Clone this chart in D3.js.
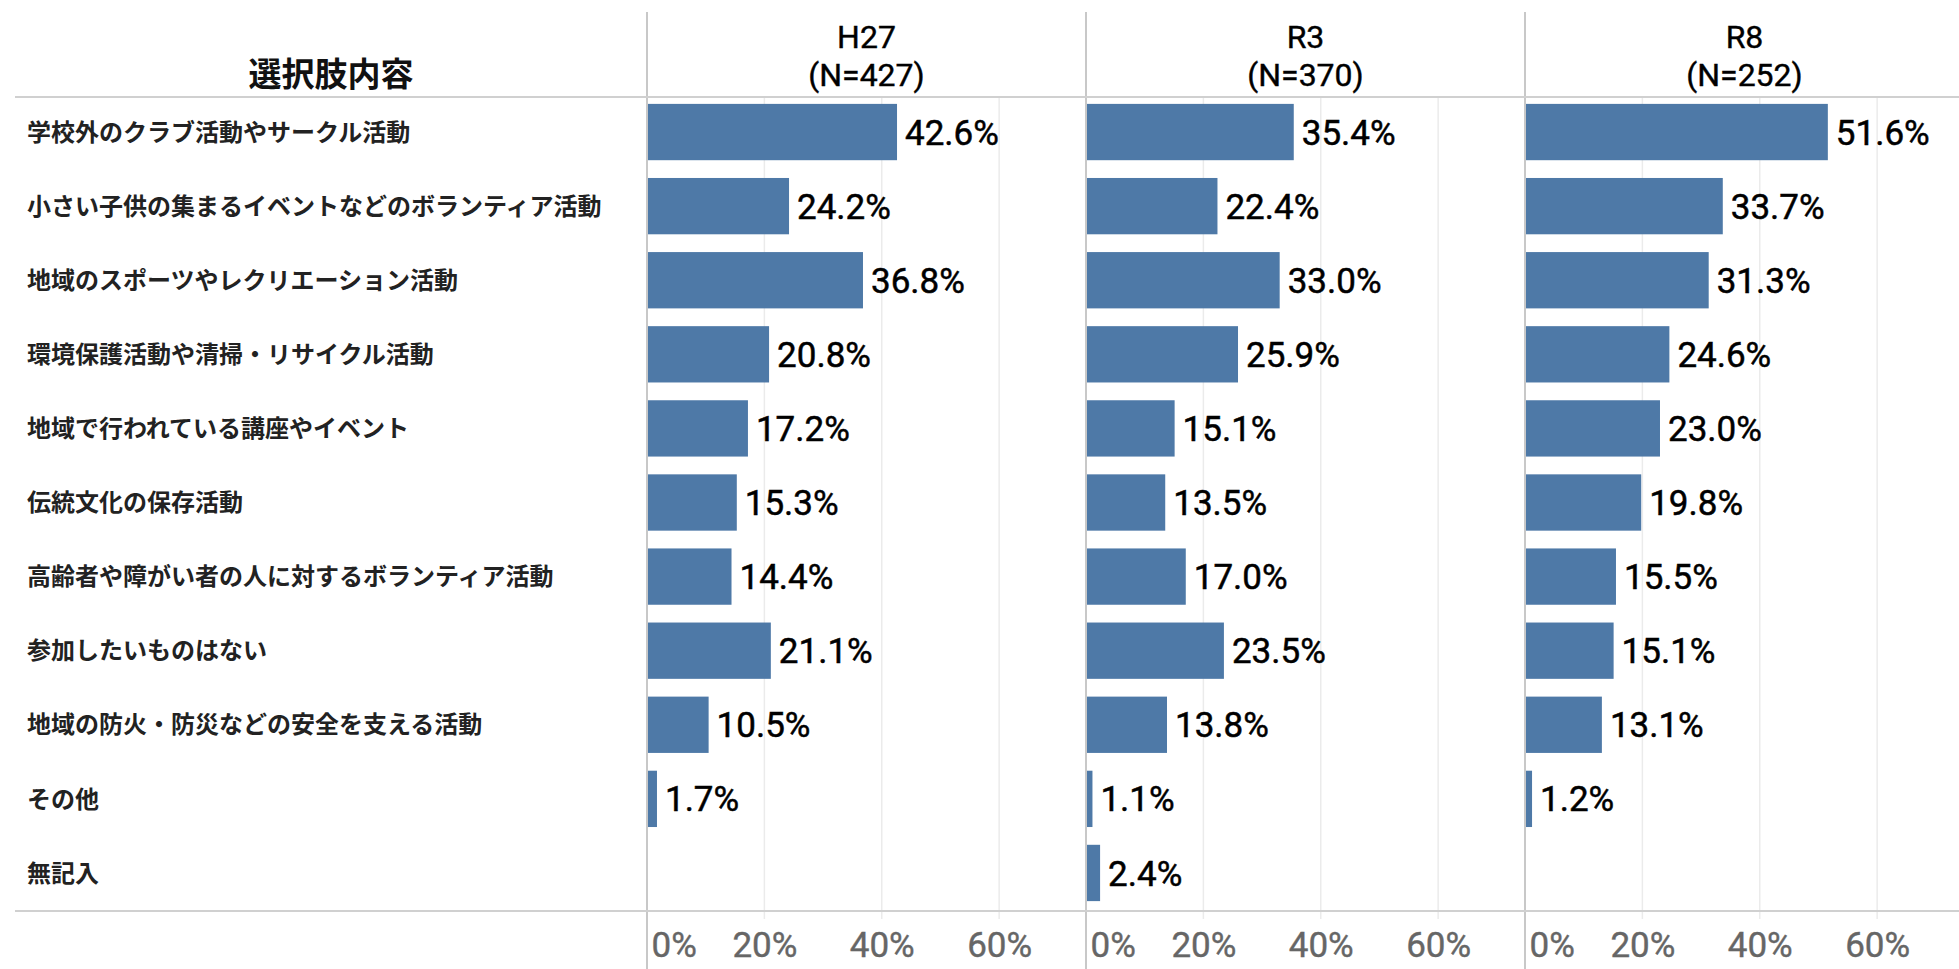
<!DOCTYPE html>
<html>
<head>
<meta charset="utf-8">
<script src="https://cdn.jsdelivr.net/npm/d3@7"></script>
<style>
  html, body { margin: 0; padding: 0; background: #fff; }
  svg { display: block; }
  .cat { font-family: "Noto Sans CJK JP", sans-serif; font-weight: bold; font-size: 24px; fill: #222; }
  .ttl { font-family: "Noto Sans CJK JP", sans-serif; font-weight: bold; font-size: 33px; fill: #111; }
  .val { font-family: Roboto, sans-serif; font-size: 35px; fill: #000; stroke: #000; stroke-width: 0.5px; }
  .hdr { font-family: Roboto, sans-serif; font-size: 32px; fill: #000; stroke: #000; stroke-width: 0.4px; }
  .tick text { font-family: Roboto, sans-serif; font-size: 35px; fill: #666; stroke: #666; stroke-width: 0.4px; }
</style>
</head>
<body>
<script>
const categories = [
  '学校外のクラブ活動やサークル活動',
  '小さい子供の集まるイベントなどのボランティア活動',
  '地域のスポーツやレクリエーション活動',
  '環境保護活動や清掃・リサイクル活動',
  '地域で行われている講座やイベント',
  '伝統文化の保存活動',
  '高齢者や障がい者の人に対するボランティア活動',
  '参加したいものはない',
  '地域の防火・防災などの安全を支える活動',
  'その他',
  '無記入'
];
const surveys = ['H27', 'R3', 'R8'];
const sampleSizes = [427, 370, 252];
const valuesH27 = [42.6, 24.2, 36.8, 20.8, 17.2, 15.3, 14.4, 21.1, 10.5, 1.7, null];
const valuesR3  = [35.4, 22.4, 33.0, 25.9, 15.1, 13.5, 17.0, 23.5, 13.8, 1.1, 2.4];
const valuesR8  = [51.6, 33.7, 31.3, 24.6, 23.0, 19.8, 15.5, 15.1, 13.1, 1.2, null];
const tickValues = [0, 20, 40, 60];

const series = [valuesH27, valuesR3, valuesR8];

const width = 1959, height = 969;
const yTop = 97, yBottom = 911;
const panelLeft = 647, panelW = 439;

const svg = d3.select('body').append('svg')
  .attr('width', width)
  .attr('height', height);

const y = d3.scaleBand()
  .domain(categories)
  .range([yTop - 2, yBottom - 1])
  .paddingInner(0.24)
  .paddingOuter(0.12);

// header
svg.append('text')
  .attr('class', 'ttl')
  .attr('x', 331).attr('y', 86)
  .attr('text-anchor', 'middle')
  .text('選択肢内容');

// category labels
svg.append('g').selectAll('text')
  .data(categories)
  .join('text')
  .attr('class', 'cat')
  .attr('x', 27)
  .attr('y', d => y(d) + y.bandwidth() / 2)
  .attr('dy', '0.36em')
  .text(d => d);

surveys.forEach((s, i) => {
  const x0 = panelLeft + i * panelW;
  const x = d3.scaleLinear().domain([0, 74.8]).range([x0, x0 + panelW]);
  const g = svg.append('g');

  // gridlines
  g.selectAll('line.grid')
    .data(tickValues.slice(1))
    .join('line')
    .attr('x1', d => x(d)).attr('x2', d => x(d))
    .attr('y1', yTop).attr('y2', yBottom + 8)
    .attr('stroke', '#ebebeb').attr('stroke-width', 1.5);

  // bars
  const rows = categories.map((c, k) => ({ c, v: series[i][k] })).filter(d => d.v != null);
  g.selectAll('rect')
    .data(rows)
    .join('rect')
    .attr('x', x(0))
    .attr('y', d => y(d.c))
    .attr('width', d => Math.max(x(d.v) - x(0), 4))
    .attr('height', y.bandwidth())
    .attr('fill', '#4e79a7');

  g.selectAll('text.val')
    .data(rows)
    .join('text')
    .attr('class', 'val')
    .attr('x', d => Math.max(x(d.v), x(0) + 4) + 8)
    .attr('y', d => y(d.c) + y.bandwidth() / 2)
    .attr('dy', '0.36em')
    .text(d => d.v.toFixed(1) + '%');

  // panel header
  const cx = x0 + panelW / 2;
  g.append('text').attr('class', 'hdr')
    .attr('x', cx).attr('y', 48).attr('text-anchor', 'middle').text(s);
  g.append('text').attr('class', 'hdr')
    .attr('x', cx).attr('y', 86).attr('text-anchor', 'middle').text('(N=' + sampleSizes[i] + ')');

  // bottom axis
  const ax = svg.append('g')
    .attr('transform', `translate(0,${yBottom})`)
    .call(d3.axisBottom(x).tickValues(tickValues).tickSize(0).tickPadding(21).tickFormat(d => d + '%'));
  ax.select('.domain').remove();
  ax.selectAll('.tick text').attr('dy', '0.7em')
    .attr('text-anchor', d => d === 0 ? 'start' : 'middle')
    .attr('dx', d => d === 0 ? 4 : 0);

  // divider
  svg.append('line')
    .attr('x1', x0).attr('x2', x0)
    .attr('y1', 12).attr('y2', height)
    .attr('stroke', '#c8c8c8').attr('stroke-width', 2);
});

// horizontal rules
[yTop, yBottom].forEach(yy => {
  svg.append('line')
    .attr('x1', 15).attr('x2', width)
    .attr('y1', yy).attr('y2', yy)
    .attr('stroke', '#d0d0d0').attr('stroke-width', 2);
});
</script>
</body>
</html>
